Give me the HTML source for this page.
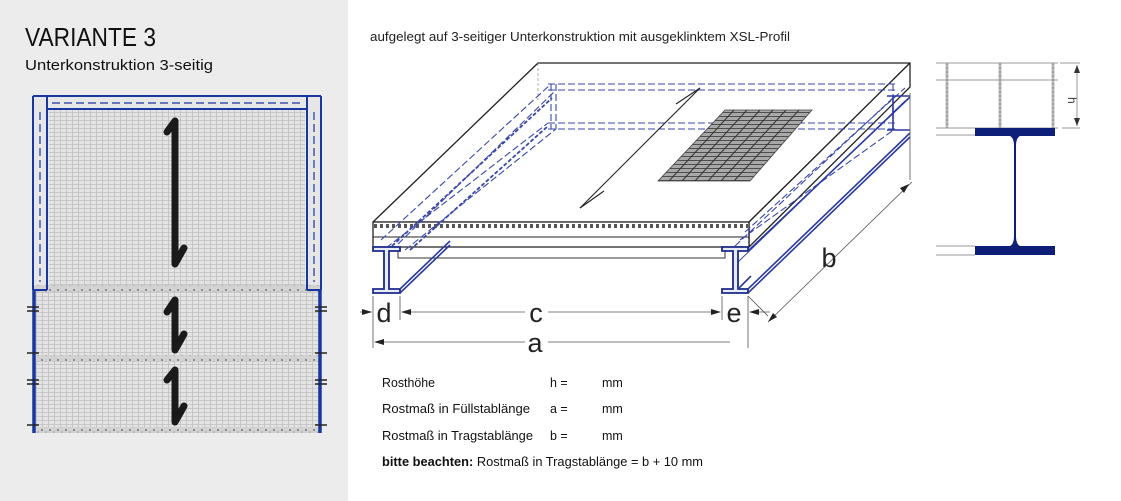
<!DOCTYPE html>
<html><head><meta charset="utf-8">
<style>
html,body{margin:0;padding:0;background:#fff;}
body{width:1121px;height:501px;overflow:hidden;position:relative;font-family:"Liberation Sans",sans-serif;}
svg{position:absolute;left:0;top:0;}
</style></head>
<body>
<svg width="1121" height="501" viewBox="0 0 1121 501" xmlns="http://www.w3.org/2000/svg">
<defs>
<pattern id="grid" width="6" height="4" patternUnits="userSpaceOnUse">
<rect width="6" height="4" fill="#e4e4e4"/>
<path d="M0 0.5H6M0.5 0V4" stroke="#c0c0c0" stroke-width="0.8"/>
</pattern>
<pattern id="dots" width="8" height="7" patternUnits="userSpaceOnUse">
<rect width="8" height="7" fill="#d2d2d2"/>
<circle cx="2" cy="3" r="1" fill="#777"/><circle cx="6" cy="5" r="0.8" fill="#999"/>
</pattern>
<pattern id="gr" width="10" height="4" patternUnits="userSpaceOnUse">
<rect width="10" height="4" fill="#a8a8a8"/>
<path d="M0 0.5H10" stroke="#444" stroke-width="0.9"/>
</pattern>
</defs>

<!-- left panel -->
<rect x="0" y="0" width="348" height="501" fill="#ececec"/>
<text x="25" y="46" font-size="26" fill="#111" textLength="131" lengthAdjust="spacingAndGlyphs">VARIANTE 3</text>
<text x="25" y="70" font-size="15" fill="#111" textLength="188" lengthAdjust="spacingAndGlyphs">Unterkonstruktion 3-seitig</text>

<rect x="33" y="96" width="288" height="337" fill="url(#grid)"/>
<rect x="33" y="96" width="16" height="194" fill="#e6e6e6"/>
<rect x="305" y="96" width="16" height="194" fill="#e6e6e6"/>
<rect x="47" y="96" width="260" height="13" fill="#e6e6e6"/>
<rect x="33" y="285" width="288" height="7" fill="url(#dots)"/>
<rect x="33" y="355" width="288" height="7" fill="url(#dots)"/>
<rect x="33" y="427" width="288" height="6" fill="url(#dots)"/>
<g stroke="#1a36a0" fill="none">
<path d="M33 96H321" stroke-width="2"/>
<path d="M33 96V290" stroke-width="2"/>
<path d="M321 96V290" stroke-width="2"/>
<path d="M47 109H307M47 96V290M307 96V290" stroke-width="2"/>
<path d="M33 290H47M307 290H321" stroke-width="2"/>
<path d="M34 290V433M320 290V433" stroke-width="3.5"/>
<path d="M52 103H302" stroke-dasharray="8 4" stroke-width="1.2"/>
<path d="M40 112V282M314 112V282" stroke-dasharray="8 4" stroke-width="1.2"/>
</g>
<g stroke="#222" stroke-width="1.5">
<path d="M27 307H39M27 311H39M315 307H327M315 311H327"/>
<path d="M27 353H39M315 353H327"/>
<path d="M27 380H39M27 384H39M315 380H327M315 384H327"/>
<path d="M27 425H39M315 425H327"/>
</g>
<g stroke="#1a1a1a" stroke-width="7" fill="none" stroke-linecap="round" stroke-linejoin="round">
<path d="M167 132L175 121V264L184 248"/>
<path d="M167 312L175 300V350L184 334"/>
<path d="M167 380L175 370V422L184 406"/>
</g>

<!-- header -->
<text x="370" y="41" font-size="12.5" fill="#222" textLength="420" lengthAdjust="spacingAndGlyphs">aufgelegt auf 3-seitiger Unterkonstruktion mit ausgeklinktem XSL-Profil</text>

<!-- main 3D drawing -->
<g fill="none" stroke-linejoin="round">
<!-- slab -->
<path d="M373 222L538 63H910L749 222Z" fill="#fff" stroke="#222" stroke-width="1.3"/>
<path d="M749 222L910 63V87L749 247Z" fill="#fff" stroke="#222" stroke-width="1.3"/>
<rect x="373" y="222" width="376" height="25" fill="#fff" stroke="#222" stroke-width="1.3"/>
<path d="M374 226H748" stroke="#555" stroke-width="4" stroke-dasharray="3 3"/>
<path d="M373 237H749" stroke="#222" stroke-width="1"/>
<path d="M398 247V258H725V247" stroke="#333" stroke-width="1"/>
<path d="M538 63V100" stroke="#999" stroke-width="0.8" stroke-dasharray="3 2"/>
<!-- hidden structure -->
<g stroke="#3a47a8" stroke-width="1.1" stroke-dasharray="7 3">
<path d="M548 84H895M548 90H895M548 123H895M548 129H895"/>
<path d="M551 84V129M556 84V129M893 84V129"/>
<path d="M381 240L551 84M398 244L556 90M386 248L548 123"/>
<path d="M405 250L556 129"/>
<path d="M735 246L895 96M745 232L905 88M740 240L895 129"/>
</g>
<g stroke="#3a47a8" stroke-width="1.8" stroke-dasharray="4 2">
<path d="M392 246L552 98"/>
<path d="M410 250L548 126"/>
</g>
<!-- big arrow -->
<path d="M580 208L700 88" stroke="#222" stroke-width="1.1"/>
<path d="M580 208L604 191M700 88L676 104" stroke="#222" stroke-width="1.1"/>
</g>
<!-- grating patch -->
<path d="M658 181L750 181L812 110L725 110Z" fill="url(#gr)" stroke="#444" stroke-width="0.8"/>
<g stroke="#333" stroke-width="1">
<path d="M669 181L734 110M682 181L747 110M695 181L760 110M708 181L773 110M721 181L786 110M734 181L799 110"/>
</g>

<!-- I-beams front -->
<g fill="#e8ecf8" stroke="#1a2a8c" stroke-width="1.8">
<path d="M373 247H400V251H389V289H400V293H373V289H384V251H373Z"/>
<path d="M722 247H748V251H738V289H748V293H722V289H733V251H722Z"/>
</g>
<!-- beams receding -->
<g stroke="#2a3aa0" stroke-width="1.6" fill="none">
<path d="M400 293L450 245M400 289L450 241"/>
<path d="M748 293L910 137M748 289L910 133M748 251L910 97"/>
<path d="M738 289L751 276"/>
<path d="M893 96V130M887 96H910M887 130H910"/>
</g>
<g stroke="#2a3aa0" stroke-width="0.9" fill="none">
<path d="M738 262L905 101"/>
</g>

<!-- dimensions -->
<g stroke="#555" stroke-width="0.8" fill="none">
<path d="M373 296V348M400 296V320M722 296V320M748 296V348"/>
<path d="M360 312H372M405 312H525M548 312H715M756 312H770"/>
<path d="M378 342H525M548 342H730"/>
<path d="M768 322L912 182M748 296L768 316"/>
<path d="M910 93V180"/>
</g>
<g fill="#222">
<path d="M372 312L362 309V315Z"/>
<path d="M401 312L411 309V315Z"/>
<path d="M721 312L711 309V315Z"/>
<path d="M749 312L759 309V315Z"/>
<path d="M374 342L384 339V345Z"/>
<path d="M768 322L773 313L777 317Z"/>
<path d="M909 184L900 188L904 193Z"/>
</g>
<g font-size="27" fill="#222" text-anchor="middle">
<text x="384" y="322">d</text>
<text x="536" y="322">c</text>
<text x="734" y="322">e</text>
<text x="535" y="352">a</text>
<text x="829" y="267">b</text>
</g>

<!-- right section -->
<g stroke="#999" stroke-width="1" fill="none">
<path d="M936 63H1058M936 80H1058M936 128H1058"/>
<path d="M936 135H975M936 246H975M936 255H975"/>
<path d="M1060 63H1080M1062 128H1080"/>
<path d="M1077 65V126"/>
</g>
<g stroke="#bbb" stroke-width="3" fill="none">
<path d="M947 63V128M1000 63V128M1053 63V128"/>
</g>
<g stroke="#777" stroke-width="0.8" stroke-dasharray="2 2" fill="none">
<path d="M947 63V128M1000 63V128M1053 63V128"/>
</g>
<g fill="#333"><path d="M1077 65L1074 73H1080Z"/><path d="M1077 126L1074 118H1080Z"/></g>
<text x="1068" y="97" font-size="12" fill="#333" transform="rotate(90 1068 97)">h</text>
<path d="M975 128H1055V136H1020Q1016 138 1016 146V236Q1016 244 1020 246H1055V255H975V246H1010Q1014 244 1014 236V146Q1014 138 1010 136H975Z" fill="#0e1f7a"/>

<!-- table -->
<g font-size="12.5" fill="#111">
<text x="382" y="387" textLength="53" lengthAdjust="spacingAndGlyphs">Rosthöhe</text><text x="550" y="387">h =</text><text x="602" y="387">mm</text>
<text x="382" y="413" textLength="148" lengthAdjust="spacingAndGlyphs">Rostmaß in Füllstablänge</text><text x="550" y="413">a =</text><text x="602" y="413">mm</text>
<text x="382" y="440" textLength="151" lengthAdjust="spacingAndGlyphs">Rostmaß in Tragstablänge</text><text x="550" y="440">b =</text><text x="602" y="440">mm</text>
<text x="382" y="466" textLength="321" lengthAdjust="spacingAndGlyphs"><tspan font-weight="bold">bitte beachten:</tspan> Rostmaß in Tragstablänge = b + 10 mm</text>
</g>
</svg>
</body></html>
